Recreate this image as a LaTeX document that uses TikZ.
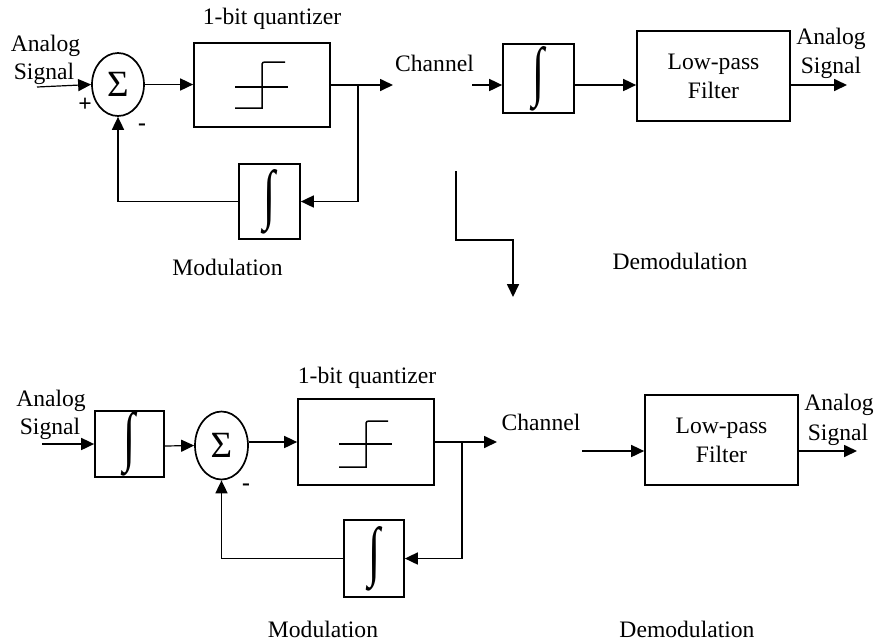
\documentclass[tikz,border=0pt]{standalone}
\usepackage{fontspec}
\setmainfont{Liberation Serif}
\usetikzlibrary{shapes.geometric,arrows.meta}
\newcommand{\bigint}{\resizebox{12pt}{47pt}{∫}}
\begin{document}
\begin{tikzpicture}[x=1pt,y=-1pt,
  font=\fontsize{23.6}{26}\selectfont,
  line width=1.7pt,
  arr/.style={-{Triangle[length=13pt,width=12pt]}},
  blk/.style={draw,rectangle,inner sep=0pt},
  sumnode/.style={draw,ellipse,inner sep=0pt,font=\fontsize{37}{37}\selectfont},
  lbl/.style={inner sep=0pt,align=center},
  intg/.style={blk}]
\useasboundingbox (0,0) rectangle (877,641);
% ---------- top row ----------
\node[lbl] (ta1) at (45.5,46) {Analog};
\node[lbl] (ts1) at (44,73.5) {Signal};
\node[lbl] (tplus) at (85,105) {\textbf{+}};
\node[lbl] (tminus) at (142,127) {\textbf{-}};
\node[sumnode,minimum width=52pt,minimum height=63pt] (sum1) at (118,84.5) {Σ};
\node[lbl] (tq) at (272,18.5) {1-bit quantizer};
\node[blk,minimum width=136pt,minimum height=84pt] (q1) at (262,85) {};
\draw[line width=1.5pt] (235,87) -- (288,87);
\draw[line width=1.5pt] (235,108) -- (262,108) -- (262,64) to[out=90,in=180] (265,62) -- (285,62);
\node[intg,minimum width=61pt,minimum height=75pt] (int1) at (269.5,201.5) {\bigint};
\node[lbl] (tmod1) at (227.5,267) {Modulation};
\coordinate (in1) at (37,87);
\coordinate (b1) at (358,85);
\coordinate (out1) at (393,85);
\draw[arr,line width=1.2pt] (in1) -- (sum1.west);
\draw[arr] (sum1.east) -- (q1.west |- sum1.east);
\draw[arr] (q1.east |- out1) -- (out1);
\draw[arr] (b1) |- (int1.east);
\draw[arr] (int1.west) -| (sum1.south);
% demodulation top
\node[lbl] (tch1) at (434.5,63.5) {Channel};
\node[intg,minimum width=71pt,minimum height=69pt] (int2) at (538.5,78.5) {\bigint};
\node[blk,minimum width=153pt,minimum height=90pt,align=center] (lpf1) at (713.5,76) {Low-pass\\[3pt]Filter};
\node[lbl] (ta2) at (831,39) {Analog};
\node[lbl] (ts2) at (831,67.5) {Signal};
\node[lbl] (tdem1) at (680,261) {Demodulation};
\coordinate (ch1) at (472,85);
\coordinate (o2) at (847,85);
\draw[arr] (ch1) -- (int2.west |- ch1);
\draw[arr] (int2.east |- ch1) -- (lpf1.west |- ch1);
\draw[arr] (lpf1.east |- ch1) -- (o2);
% step arrow
\coordinate (s1) at (456,171);
\coordinate (s2) at (513,240);
\coordinate (s3) at (513,297);
\draw[arr] (s1) |- (s2) -- (s3);
% ---------- bottom row ----------
\node[lbl] (ba1) at (51,401) {Analog};
\node[lbl] (bs1) at (50,429) {Signal};
\node[intg,minimum width=69pt,minimum height=66pt] (int3) at (129.5,444) {\bigint};
\node[sumnode,minimum width=53pt,minimum height=68pt] (sum2) at (221.5,445.5) {Σ};
\node[lbl] (bminus) at (246,487) {\textbf{-}};
\node[lbl] (bq) at (367,378) {1-bit quantizer};
\node[blk,minimum width=136pt,minimum height=86pt] (q2) at (366,442) {};
\draw[line width=1.5pt] (339,444) -- (392,444);
\draw[line width=1.5pt] (339,467) -- (366,467) -- (366,423) to[out=90,in=180] (369,421) -- (388,421);
\node[intg,minimum width=60pt,minimum height=77pt] (int4) at (374,558.5) {\bigint};
\node[lbl] (bmod) at (323,629) {Modulation};
\coordinate (in2) at (42,444);
\coordinate (b2) at (462,442);
\coordinate (out2) at (497,442);
\draw[arr] (in2) -- (int3.west |- in2);
\draw[arr,line width=1.2pt] (int3.east |- 0,446) -- (sum2.west);
\draw[arr] (sum2.east |- q2.west) -- (q2.west);
\draw[arr] (q2.east) -- (out2);
\draw[arr] (b2) |- (int4.east);
\draw[arr] (int4.west) -| (sum2.south);
% demodulation bottom
\node[lbl] (bch) at (541,422) {Channel};
\node[blk,minimum width=153pt,minimum height=90pt,align=center] (lpf2) at (721.5,440) {Low-pass\\[3pt]Filter};
\node[lbl] (ba2) at (839,405) {Analog};
\node[lbl] (bs2) at (838,435) {Signal};
\node[lbl] (bdem) at (687,629) {Demodulation};
\coordinate (ch2) at (582,451);
\coordinate (o3) at (857,451);
\draw[arr] (ch2) -- (lpf2.west |- ch2);
\draw[arr] (lpf2.east |- ch2) -- (o3);
\end{tikzpicture}
\end{document}
